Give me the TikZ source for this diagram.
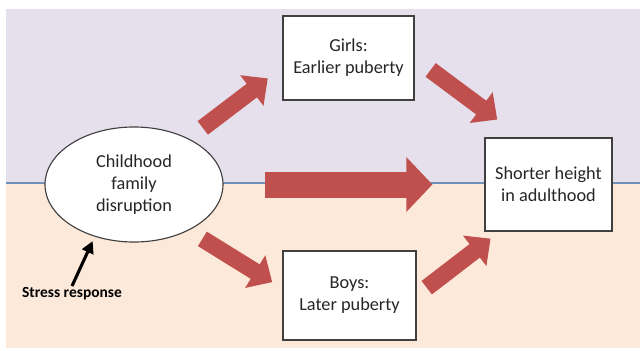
\documentclass[tikz,border=0pt]{standalone}
\usepackage{fontspec}
\setmainfont{Carlito}
\usetikzlibrary{arrows.meta,shapes.geometric}
\definecolor{lavender}{HTML}{E5E0EC}
\definecolor{peach}{HTML}{FDE9D9}
\definecolor{arrowred}{HTML}{C0504D}
\definecolor{splitblue}{HTML}{7191B8}
\tikzset{
  box/.style={draw=black!75, line width=0.8pt, fill=white, align=center,
    text=black!85, font=\fontsize{13}{15.6}\selectfont},
  fat/.style={arrowred, line width=0.425cm, -{Triangle[width=0.93cm,length=0.5cm]}},
  fatter/.style={arrowred, line width=0.65cm, -{Triangle[width=1.33cm,length=0.65cm]}},
}
\begin{document}
\begin{tikzpicture}[x=0.025cm, y=-0.025cm]
  \useasboundingbox (0,0) rectangle (640,350);
  % two halves of the background
  \fill[lavender] (6,9) rectangle (640,183);
  \fill[peach] (6,183) rectangle (640,348);
  \draw[splitblue, line width=1.5pt] (6,183) -- (640,183);

  \node[box, ellipse, minimum width=4.45cm, minimum height=2.875cm] (dis) at (134,184.5)
    {Childhood\\family\\disruption};
  \node[box, minimum width=3.275cm, minimum height=2.1cm] (girls) at (348.5,58)
    {Girls:\\Earlier puberty};
  \node[box, minimum width=3.325cm, minimum height=2.225cm] (boys) at (349.5,295.5)
    {Boys:\\Later puberty};
  \node[box, minimum width=3.175cm, minimum height=2.325cm] (short) at (548.5,184.5)
    {Shorter height\\in adulthood};
  \node[font=\fontsize{11}{13}\selectfont\bfseries, inner sep=1pt] (stress) at (72,294)
    {Stress response};

  \draw[fat, shorten <=0.44cm, shorten >=0.46cm] (dis.40) -- (girls.188);
  \draw[fat, shorten <=0.5cm, shorten >=0.75cm] (girls.east) -- (short.120);
  \draw[fatter, shorten <=1.025cm, shorten >=1.3cm] (dis.east) -- (short.west);
  \draw[fat, shorten <=0.4cm, shorten >=0.3cm] (dis.320) -- (boys.174);
  \draw[fat, shorten <=0.32cm, shorten >=0.29cm] (boys.east) -- (short.224);

  \draw[line width=2.2pt, -{Triangle[width=0.3cm,length=0.3cm]}, shorten >=0.12cm]
    (stress.north) -- (dis.233);
\end{tikzpicture}
\end{document}
